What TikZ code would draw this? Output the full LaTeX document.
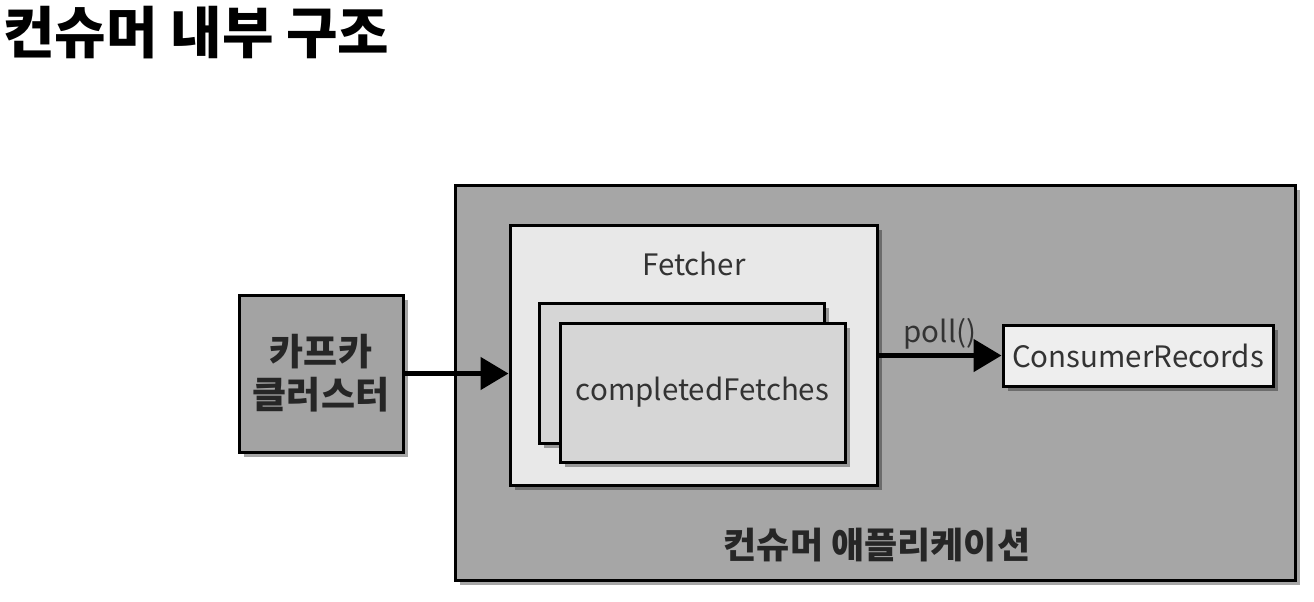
\documentclass[tikz,border=0pt]{standalone}
\usepackage{fontspec}
\setmainfont{Noto Sans CJK KR}
\usetikzlibrary{shadows,arrows.meta}
\definecolor{kafkagray}{HTML}{A3A3A3}
\definecolor{appgray}{HTML}{A6A6A6}
\definecolor{fetchgray}{HTML}{E8E8E8}
\definecolor{cfgray}{HTML}{D6D6D6}
\definecolor{crgray}{HTML}{EEEEEE}
\definecolor{txtgray}{HTML}{333333}
\tikzset{
  boxbase/.style={draw=black, line width=3pt, rectangle, inner sep=0pt,
    drop shadow={shadow xshift=5pt, shadow yshift=-5pt, opacity=0.35, fill=black}},
  bigarrow/.style={line width=5pt, -{Triangle[length=28pt,width=32pt]}},
  lbl/.style={text=txtgray, font=\fontsize{29.5}{32}\selectfont},
  krlbl/.style={text=black!85, font=\fontsize{37}{43}\selectfont\bfseries, align=center},
}
\begin{document}
\begin{tikzpicture}[x=1pt,y=-1pt]
\useasboundingbox (0,0) rectangle (1314,602);
\fill[white] (0,0) rectangle (1314,602);
\node[anchor=west, inner sep=0pt, font=\fontsize{56}{60}\selectfont\bfseries] (title) at (3,33) {컨슈머 내부 구조};
% consumer application
\node[boxbase, fill=appgray, minimum width=840pt, minimum height=395pt] (app) at (875,382.5) {};
\node[krlbl, inner sep=0pt, font=\fontsize{36}{40}\selectfont\bfseries] (applbl) at (877,545) {컨슈머 애플리케이션};
% kafka cluster
\node[boxbase, fill=kafkagray, minimum width=164pt, minimum height=157pt, krlbl] (kafka) at (321,373.5) {카프카\\클러스터};
% fetcher
\node[boxbase, fill=fetchgray, minimum width=367pt, minimum height=260pt] (fetcher) at (693.5,355) {};
\node[lbl, inner sep=0pt] (fetchlbl) at (694,264) {Fetcher};
\node[boxbase, fill=cfgray, minimum width=285pt, minimum height=140pt] (cfback) at (681.5,373) {};
\node[boxbase, fill=cfgray, minimum width=285pt, minimum height=139pt, lbl] (cffront) at (702.5,392.5) {completedFetches};
% consumer records
\node[boxbase, fill=crgray, minimum width=270pt, minimum height=61pt, lbl] (cr) at (1138,355.5) {ConsumerRecords};
% arrows
\draw[bigarrow] (kafka.east) -- (kafka.east -| fetcher.west);
\draw[bigarrow] (fetcher.east |- cr.west) -- node[lbl, above, inner sep=4pt] (poll) {poll()} (cr.west);
\end{tikzpicture}
\end{document}
